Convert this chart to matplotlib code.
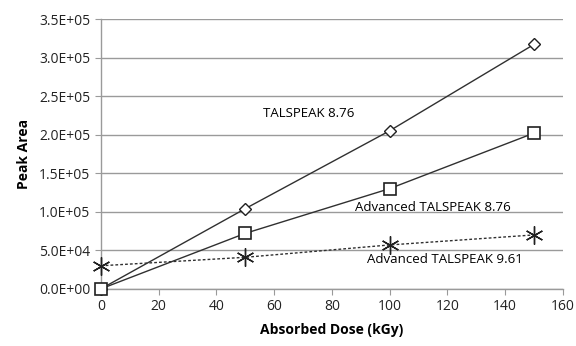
import matplotlib.pyplot as plt
from matplotlib.ticker import FuncFormatter

# Peak area vs absorbed dose
dose = [0, 50, 100, 150]
talspeak_876 = [0, 1.04e5, 2.05e5, 3.17e5]
adv_talspeak_876 = [0, 7.2e4, 1.3e5, 2.02e5]
adv_talspeak_961 = [3.0e4, 4.1e4, 5.7e4, 7.0e4]

plt.rcParams['font.family'] = ['Open Sans', 'DejaVu Sans']

fig = plt.figure(figsize=(5.76, 3.46), dpi=100)
ax = fig.add_axes([0.175, 0.165, 0.802, 0.780])

ax.plot(dose, talspeak_876, color='#303030', lw=1.0, marker='D', ms=6.5,
        mfc='white', mec='#202020', mew=1.0, clip_on=False, zorder=3)
ax.plot(dose, adv_talspeak_876, color='#303030', lw=1.0, marker='s', ms=8.5,
        mfc='white', mec='#202020', mew=1.2, clip_on=False, zorder=3)
ax.plot(dose, adv_talspeak_961, color='#303030', lw=1.0, ls=(0, (2, 1.5)),
        marker=(6, 2, 0), ms=13, mec='#202020', mew=1.0, clip_on=False, zorder=3)

ax.text(72, 2.28e5, 'TALSPEAK 8.76', fontsize=9.5, ha='center', va='center')
ax.text(115, 1.05e5, 'Advanced TALSPEAK 8.76', fontsize=9.5, ha='center', va='center')
ax.text(119, 3.75e4, 'Advanced TALSPEAK 9.61', fontsize=9.5, ha='center', va='center')

ax.set_xlim(0, 160)
ax.set_ylim(0, 3.5e5)
ax.set_xticks(range(0, 161, 20))
ax.set_yticks([i * 5e4 for i in range(8)])
ax.yaxis.set_major_formatter(FuncFormatter(lambda v, p: f'{v:.1E}'))

ax.grid(axis='y', color='#9a9a9a', lw=1.0)
ax.set_axisbelow(True)
for side in ['top', 'right']:
    ax.spines[side].set_visible(False)
for side in ['left', 'bottom']:
    ax.spines[side].set_color('#9a9a9a')
    ax.spines[side].set_linewidth(1.0)
ax.tick_params(axis='both', colors='#9a9a9a', labelcolor='#222222',
               labelsize=10, length=4)

ax.set_xlabel('Absorbed Dose (kGy)', fontsize=10, fontweight='bold', labelpad=6)
ax.set_ylabel('Peak Area', fontsize=10, fontweight='bold', labelpad=6)

plt.savefig('out.png', dpi=100)
